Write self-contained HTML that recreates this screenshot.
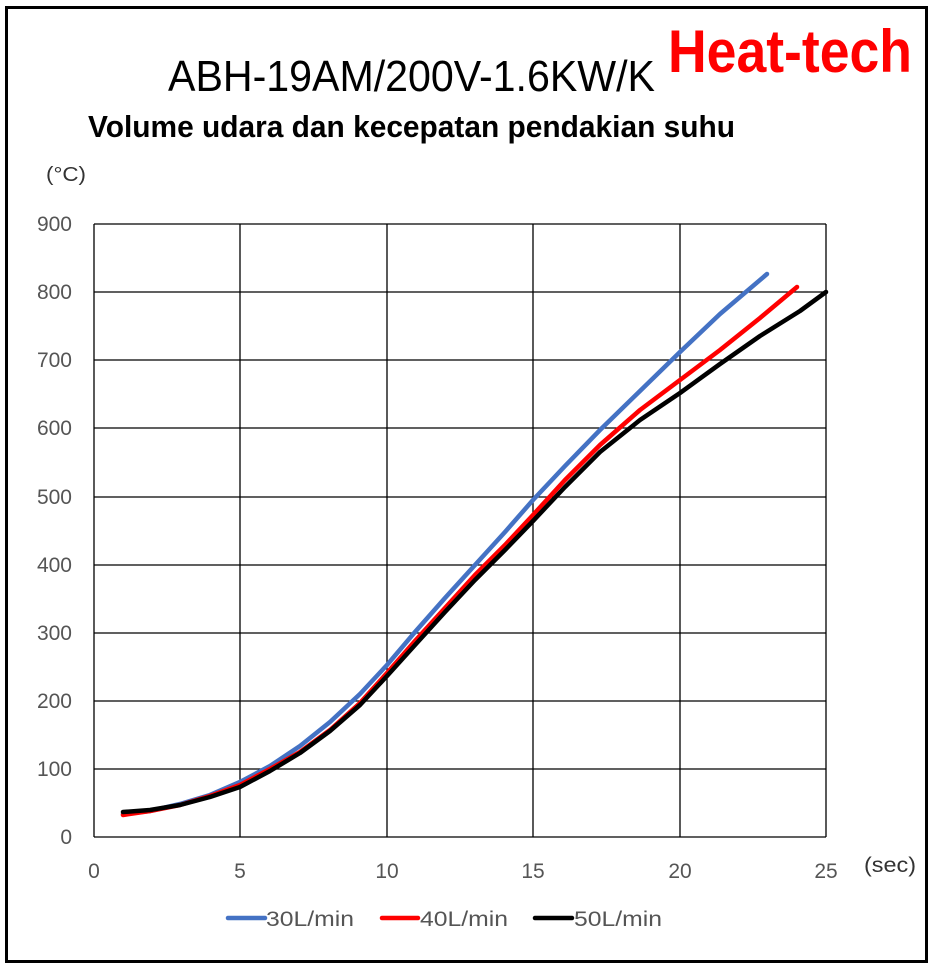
<!DOCTYPE html>
<html><head><meta charset="utf-8"><style>
body{margin:0;background:#fff;}
svg text{font-family:"Liberation Sans",sans-serif;}
</style></head><body>
<svg width="933" height="968" viewBox="0 0 933 968" xmlns="http://www.w3.org/2000/svg">
<rect x="0" y="0" width="933" height="968" fill="#fff"/>
<rect x="6.5" y="7.5" width="920" height="954" fill="none" stroke="#000" stroke-width="3"/>
<text x="668" y="72" font-size="60" font-weight="bold" fill="#ff0000" textLength="244" lengthAdjust="spacingAndGlyphs">Heat-tech</text>
<text x="168" y="91" font-size="44" fill="#000" textLength="487" lengthAdjust="spacingAndGlyphs">ABH-19AM/200V-1.6KW/K</text>
<text x="88" y="137" font-size="31" font-weight="bold" fill="#000" textLength="647" lengthAdjust="spacingAndGlyphs">Volume udara dan kecepatan pendakian suhu</text>
<text x="46" y="181" font-size="20" fill="#333" textLength="40" lengthAdjust="spacingAndGlyphs">(°C)</text>
<g stroke="#000" stroke-width="1.3" fill="none">
<path d="M94 224H826M94 292H826M94 360H826M94 428H826M94 497H826M94 565H826M94 633H826M94 701H826M94 769H826M94 837H826"/>
<path d="M94 224V837M240 224V837M387 224V837M533 224V837M680 224V837M826 224V837"/>
</g>
<g font-size="21" fill="#555" text-anchor="end">
<text x="72" y="231">900</text><text x="72" y="299">800</text><text x="72" y="367">700</text><text x="72" y="435">600</text><text x="72" y="504">500</text><text x="72" y="572">400</text><text x="72" y="640">300</text><text x="72" y="708">200</text><text x="72" y="776">100</text><text x="72" y="844">0</text>
</g>
<g font-size="21" fill="#555" text-anchor="middle">
<text x="94" y="878">0</text><text x="240" y="878">5</text><text x="387" y="878">10</text><text x="533" y="878">15</text><text x="680" y="878">20</text><text x="826" y="878">25</text>
</g>
<text x="864" y="872" font-size="21" fill="#333" textLength="52" lengthAdjust="spacingAndGlyphs">(sec)</text>
<g fill="none" stroke-width="4.5" stroke-linejoin="round" stroke-linecap="round">
<polyline stroke="#4472c4" points="123,814 150,811 180,804 210,795 240,782 270,766 300,746 330,722 360,694 387,665 415,632 445,598 475,565 505,532 533,500 565,466 600,430 640,391 680,352 720,314 767,274"/>
<polyline stroke="#ff0000" points="123,815 150,811 180,805 210,796 240,785 270,769 300,752 330,730 360,703 387,673 415,641 445,608 475,575 505,545 533,515 565,480 600,445 640,410 680,380 720,350 760,318 797,287"/>
<polyline stroke="#000" points="123,812 150,810 180,805 210,797 240,787 270,771 300,753 330,731 360,705 387,676 415,645 445,612 475,580 505,550 533,521 565,487 600,452 640,420 680,393 720,364 760,336 800,311 826,292"/>
</g>
<g stroke-width="4.5" stroke-linecap="round">
<line x1="228" y1="918" x2="265" y2="918" stroke="#4472c4"/>
<line x1="382" y1="918" x2="418" y2="918" stroke="#ff0000"/>
<line x1="535" y1="918" x2="572" y2="918" stroke="#000"/>
</g>
<g font-size="21" fill="#555">
<text x="266" y="926" textLength="88" lengthAdjust="spacingAndGlyphs">30L/min</text><text x="420" y="926" textLength="88" lengthAdjust="spacingAndGlyphs">40L/min</text><text x="574" y="926" textLength="88" lengthAdjust="spacingAndGlyphs">50L/min</text>
</g>
</svg>
</body></html>
